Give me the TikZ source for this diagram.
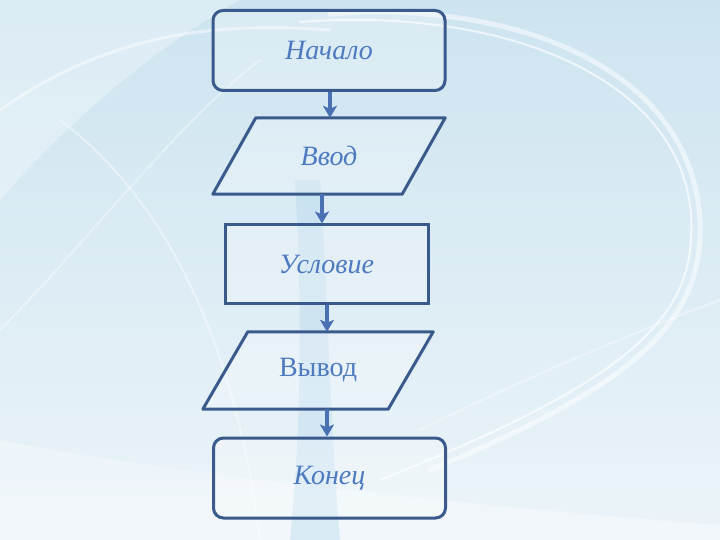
\documentclass[tikz,border=0pt]{standalone}
\usepackage{fontspec}
\setmainfont{Liberation Serif}
\usetikzlibrary{arrows.meta,calc}
\pgfdeclarelayer{deco}
\pgfdeclarelayer{shapes}
\pgfsetlayers{deco,shapes,main}
\definecolor{bgtop}{RGB}{205,228,240}
\definecolor{bgbot}{RGB}{236,244,249}
\definecolor{edge}{RGB}{58,90,140}
\definecolor{arrc}{RGB}{72,112,178}
\definecolor{txt}{RGB}{78,122,192}
\definecolor{streak}{RGB}{175,212,236}
\tikzset{
  x=1pt,y=-1pt,
  txtfont/.style={font=\fontsize{28}{32}\selectfont\itshape},
  boxbase/.style={draw=edge,line width=3pt,fill=white,fill opacity=0.25,text opacity=1,text=txt,txtfont,inner sep=0pt},
  term/.style={boxbase,rounded corners=10pt,minimum width=232pt,minimum height=80pt},
  proc/.style={boxbase,minimum width=203pt,minimum height=78pt},
  holder/.style={inner sep=0pt,text=txt,txtfont},
  para/.style={draw=edge,line width=3pt,fill=white,fill opacity=0.25,line join=round},
  arr/.style={draw=arrc,line width=3.2pt,-{Stealth[length=12pt,width=14pt,inset=3pt]}},
  swirl/.style={draw=white,line cap=round}
}
\begin{document}
\begin{tikzpicture}
\useasboundingbox (0,0) rectangle (720,540);
\begin{pgfonlayer}{deco}
\clip (0,0) rectangle (720,540);
\shade[top color=bgtop,bottom color=bgbot] (0,0) rectangle (720,540);
\fill[white,opacity=0.3] (0,540) -- (0,440) .. controls (150,470) and (400,500) .. (720,525) -- (720,540) -- cycle;
\fill[white,opacity=0.3] (0,0) -- (0,200) .. controls (60,130) and (150,50) .. (240,0) -- cycle;
\fill[streak,opacity=0.35] (295,180) .. controls (302,300) and (302,420) .. (290,540) -- (340,540) .. controls (330,420) and (328,300) .. (320,180) -- cycle;
\draw[swirl,line width=5pt,opacity=0.5] (330,14) .. controls (500,0) and (690,60) .. (700,220) .. controls (705,330) and (620,390) .. (430,470);
\draw[swirl,line width=2pt,opacity=0.65] (300,22) .. controls (520,5) and (710,90) .. (690,250) .. controls (680,340) and (580,400) .. (380,480);
\draw[swirl,line width=3pt,opacity=0.45] (0,110) .. controls (100,40) and (200,20) .. (330,30);
\draw[swirl,line width=2pt,opacity=0.4] (60,120) .. controls (140,180) and (230,300) .. (260,540);
\draw[swirl,line width=2pt,opacity=0.35] (0,330) .. controls (80,250) and (180,120) .. (260,60);
\draw[swirl,line width=2pt,opacity=0.35] (420,430) .. controls (520,380) and (640,330) .. (720,300);
\end{pgfonlayer}
% nodes
\node[term] (nachalo) at (329,50.5) {Начало};
\node[holder,minimum width=232pt,minimum height=76pt] (vvod) at (329,156) {Ввод};
\node[proc] (uslovie) at (326.5,264) {Условие};
\node[holder,minimum width=230pt,minimum height=77pt,font=\fontsize{28}{32}\selectfont\upshape] (vyvod) at (318,370.5) {Вывод};
\node[term] (konec) at (329.5,478) {Конец};
\begin{pgfonlayer}{shapes}
\draw[para] ($(vvod.north west)+(43,0)$) -- (vvod.north east) -- ($(vvod.south east)+(-43,0)$) -- (vvod.south west) -- cycle;
\draw[para] ($(vyvod.north west)+(45,0)$) -- (vyvod.north east) -- ($(vyvod.south east)+(-45,0)$) -- (vyvod.south west) -- cycle;
\end{pgfonlayer}
% connectors
\draw[arr] ([xshift=1pt]nachalo.south) -- ([xshift=1pt]nachalo.south |- vvod.north);
\draw[arr] ([xshift=-7pt]vvod.south) -- ([xshift=-7pt]vvod.south |- uslovie.north);
\draw[arr] ([xshift=9pt]vyvod.north |- uslovie.south) -- ([xshift=9pt]vyvod.north);
\draw[arr] ([xshift=9pt]vyvod.south) -- ([xshift=9pt]vyvod.south |- konec.north);
\end{tikzpicture}
\end{document}
